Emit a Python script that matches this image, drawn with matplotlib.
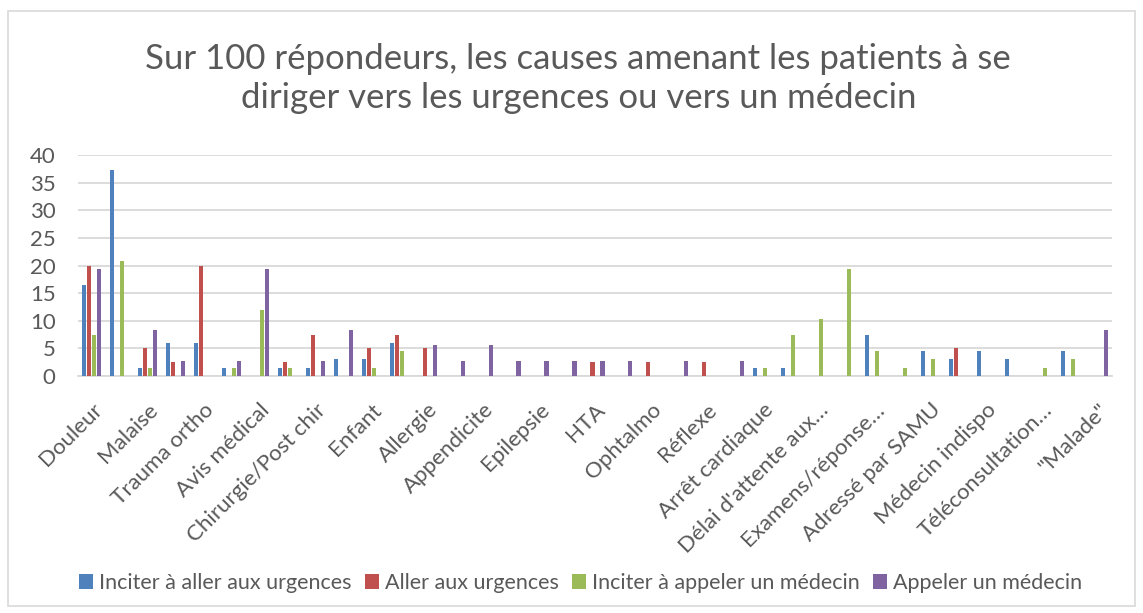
import numpy as np
import matplotlib
matplotlib.use("Agg")
import matplotlib.pyplot as plt
from matplotlib.patches import Rectangle

# Couleurs Office et texte gris
colors = ["#4F81BD", "#C0504D", "#9BBB59", "#8064A2"]
text_color = "#595959"
grid_color = "#D9D9D9"

plt.rcParams["font.family"] = ["Lato", "DejaVu Sans"]

# Catégories (Excel n'affiche qu'une étiquette sur deux, les autres sont inconnues)
categories = ["Douleur", "", "Malaise", "", "Trauma ortho", "", "Avis médical", "",
              "Chirurgie/Post chir", "", "Enfant", "", "Allergie", "", "Appendicite", "",
              "Epilepsie", "", "HTA", "", "Ophtalmo", "", "Réflexe", "", "Arrêt cardiaque", "",
              "Délai d'attente aux…", "", "Examens/réponse…", "", "Adressé par SAMU", "",
              "Médecin indispo", "", "Téléconsultation…", "", "\"Malade\""]

series_names = ["Inciter à aller aux urgences", "Aller aux urgences",
                "Inciter à appeler un médecin", "Appeler un médecin"]

inciter_urgences = [16.4, 37.3, 1.5, 6, 6, 1.5, 0, 1.5, 1.5, 3, 3, 6, 0, 0, 0, 0, 0, 0, 0,
                    0, 0, 0, 0, 0, 1.5, 1.5, 0, 0, 7.5, 0, 4.5, 3, 4.5, 3, 0, 4.5, 0]
aller_urgences = [20, 0, 5, 2.5, 20, 0, 0, 2.5, 7.5, 0, 5, 7.5, 5, 0, 0, 0, 0, 0, 2.5,
                  0, 2.5, 0, 2.5, 0, 0, 0, 0, 0, 0, 0, 0, 5, 0, 0, 0, 0, 0]
inciter_medecin = [7.5, 20.9, 1.5, 0, 0, 1.5, 11.9, 1.5, 0, 0, 1.5, 4.5, 0, 0, 0, 0, 0, 0, 0,
                   0, 0, 0, 0, 0, 1.5, 7.5, 10.4, 19.4, 4.5, 1.5, 3, 0, 0, 0, 1.5, 3, 0]
appeler_medecin = [19.4, 0, 8.3, 2.8, 0, 2.8, 19.4, 0, 2.8, 8.3, 0, 0, 5.6, 2.8, 5.6, 2.8, 2.8,
                   2.8, 2.8, 2.8, 0, 2.8, 0, 2.8, 0, 0, 0, 0, 0, 0, 0, 0, 0, 0, 0, 0, 8.3]

series = [inciter_urgences, aller_urgences, inciter_medecin, appeler_medecin]

fig = plt.figure(figsize=(11.43, 6.13), dpi=100)
ax = fig.add_axes([0.068, 0.3866, 0.905, 0.3605])

x = np.arange(len(categories))
step = 0.179
for i, (vals, name, c) in enumerate(zip(series, series_names, colors)):
    ax.bar(x + (i - 1.5) * step, vals, width=0.15, color=c, label=name, zorder=3)

ax.set_xlim(-0.5, len(categories) - 0.5)
ax.set_ylim(0, 40)
ax.set_yticks(range(0, 41, 5))
ax.yaxis.grid(True, color=grid_color, linewidth=1.3, zorder=0)
ax.set_xticks(x)
ax.set_xticklabels(categories, rotation=45, ha="right", rotation_mode="anchor")
ax.tick_params(axis="both", length=0, labelsize=16, colors=text_color)
ax.tick_params(axis="x", pad=17)
ax.tick_params(axis="y", pad=16)
for s in ["top", "right", "left"]:
    ax.spines[s].set_visible(False)
ax.spines["bottom"].set_color(grid_color)
ax.spines["bottom"].set_linewidth(1.3)

fig.text(0.506, 0.872, "Sur 100 répondeurs, les causes amenant les patients à se\n"
         "diriger vers les urgences ou vers un médecin",
         ha="center", va="center", fontsize=25, color=text_color, linespacing=1.3)

fig.legend(loc="center", bbox_to_anchor=(0.508, 0.049), ncol=4, frameon=False,
           fontsize=15.5, labelcolor=text_color, handlelength=0.65, handleheight=0.65,
           handletextpad=0.3, columnspacing=0.6)

# Cadre du graphique
fig.patches.append(Rectangle((8 / 1143, 1 - 606 / 613), 1127 / 1143, 595 / 613,
                             transform=fig.transFigure, fill=False,
                             edgecolor=grid_color, linewidth=1.2))

fig.savefig("out.png", dpi=100, facecolor="white")
